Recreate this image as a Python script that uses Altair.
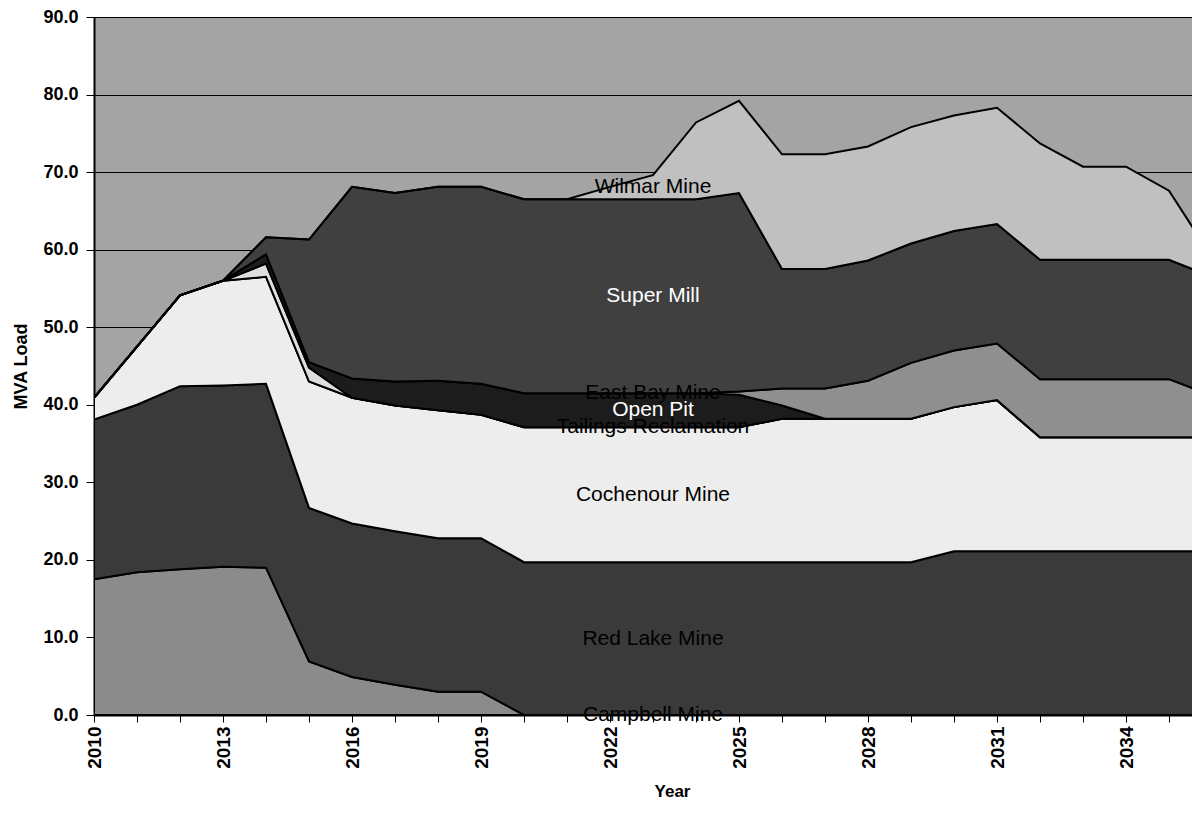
import altair as alt
import pandas as pd

years = list(range(2010, 2037))

series_names = ["Campbell Mine", "Red Lake Mine", "Cochenour Mine", "Tailings Reclamation",
                "Open Pit", "East Bay Mine", "Super Mill", "Wilmar Mine"]

campbell = [17.5, 18.4, 18.8, 19.1, 19.0, 6.9, 4.9, 3.9, 3.0, 3.0] + [0.0] * 17
red_lake = [20.6, 21.6, 23.6, 23.4, 23.7, 19.8, 19.8, 19.8, 19.8, 19.8] + [19.7] * 10 + [21.1] * 7
cochenour = [2.8, 7.5, 11.7, 13.5, 13.8, 16.3, 16.2, 16.2, 16.5, 15.9] + [17.4] * 6 + [18.5] * 4 + [18.6, 19.5] + [14.7] * 5
tailings = [0.0] * 4 + [1.7, 1.8] + [0.0] * 21
open_pit = [0.0] * 4 + [1.2, 0.7, 2.5, 3.1, 3.8, 4.0] + [4.4] * 5 + [4.2, 1.7] + [0.0] * 10
east_bay = [0.0] * 15 + [0.4, 2.2, 3.9, 4.9, 7.2, 7.3, 7.3, 7.5, 7.5, 7.5, 7.5, 5.4]
super_mill = [0.0] * 4 + [2.2, 15.8, 24.7, 24.3, 25.0, 25.4] + [25.0] * 5 + [25.6, 15.4, 15.4, 15.5, 15.4, 15.4, 15.4] + [15.4] * 4 + [15.3]
wilmar = [0.0] * 12 + [1.6, 3.1, 9.9, 11.9, 14.8, 14.8, 14.7, 15.0, 14.9, 15.0, 15.0, 12.0, 12.0, 8.9, 2.5]

series_values = [campbell, red_lake, cochenour, tailings, open_pit, east_bay, super_mill, wilmar]

fill_colors = ["#8b8b8b", "#3a3a3a", "#ededed", "#dedede", "#1c1c1c", "#8f8f8f", "#404040", "#c0c0c0"]
label_colors = ["black", "black", "black", "black", "white", "black", "white", "black"]

label_year = 2023

# build stacked table
rows = []
cum = [0.0] * len(years)
for k, (name, vals) in enumerate(zip(series_names, series_values)):
    for i, yr in enumerate(years):
        lo = cum[i]
        hi = lo + vals[i]
        rows.append({"year": yr, "series": name, "order": k, "lo": lo, "hi": hi})
        cum[i] = hi
df = pd.DataFrame(rows)

lab = df[df["year"] == label_year].copy()
lab["mid"] = (lab["lo"] + lab["hi"]) / 2

FONT = "Liberation Sans"
W, H = 1098, 698
x_end = 2010 + W / 43.0

xscale = alt.Scale(domain=[2010, x_end], nice=False, zero=False)
yscale = alt.Scale(domain=[0, 90], nice=False, zero=True)

x_axis = alt.Axis(
    values=list(range(2010, 2036)), format="d",
    labelExpr="(datum.value - 2010) % 3 == 0 ? datum.label : ''",
    labelAngle=270, labelFont=FONT, labelFontWeight="bold", labelFontSize=19,
    labelColor="black", labelOverlap=False, labelFlush=False, labelPadding=4,
    tickColor="black", tickSize=7, tickWidth=1,
    domainColor="black", domainWidth=2, grid=False,
    title="Year", titleFont=FONT, titleFontWeight="bold", titleFontSize=17,
    titleColor="black", titleX=578, titleY=76, titleAlign="center", titleBaseline="middle",
)
y_axis = alt.Axis(
    values=list(range(0, 91, 10)), format=".1f",
    labelFont=FONT, labelFontWeight="bold", labelFontSize=18, labelColor="black",
    labelPadding=8, tickColor="black", tickSize=8, tickWidth=1,
    domainColor="black", domainWidth=2,
    grid=True, gridColor="black", gridWidth=1, gridOpacity=1,
    title="MVA Load", titleFont=FONT, titleFontWeight="bold", titleFontSize=18,
    titleColor="black", titleAngle=270, titleX=-73, titleY=H / 2,
    titleAlign="center", titleBaseline="middle",
)

areas = alt.Chart(df).mark_area(stroke="black", strokeWidth=2, clip=True, opacity=1).encode(
    x=alt.X("year:Q", scale=xscale, axis=x_axis),
    y=alt.Y("hi:Q", scale=yscale, axis=y_axis),
    y2="lo:Q",
    color=alt.Color("series:N", scale=alt.Scale(domain=series_names, range=fill_colors), legend=None),
    order=alt.Order("order:Q"),
)

labels = alt.Chart(lab).mark_text(font=FONT, fontSize=21, align="center", baseline="middle").encode(
    x=alt.X("year:Q", scale=xscale),
    y=alt.Y("mid:Q", scale=yscale),
    text="series:N",
    color=alt.Color("series:N", scale=alt.Scale(domain=series_names, range=label_colors), legend=None),
)

chart = alt.layer(areas, labels).resolve_scale(color="independent").properties(
    width=W, height=H,
    padding={"left": 86, "top": 9, "right": 0, "bottom": 87},
    autosize=alt.AutoSizeParams(type="none"),
    background="white",
).configure_view(fill="#a4a4a4", stroke="black", strokeWidth=1)

chart.save("out.html", embed_options={"renderer": "svg", "actions": False})
